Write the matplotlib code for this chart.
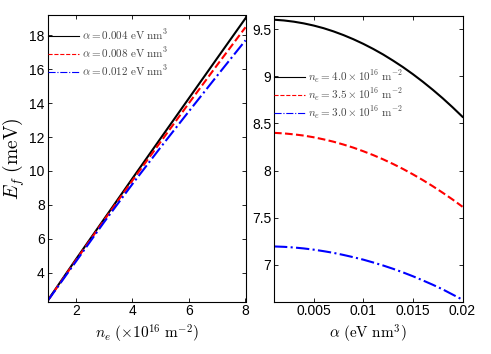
"""Fermi energy vs carrier density and Rashba coupling, two panels."""

import matplotlib
matplotlib.use('Agg')
import matplotlib.pyplot as plt


# left panel: E_f against n_e for three alpha values
density = [1, 2, 3, 4, 5, 6, 7, 8]
ef_alpha_004 = [2.36, 4.79, 7.17, 9.56, 11.93, 14.29, 16.65, 19.00]
ef_alpha_008 = [2.35, 4.73, 7.10, 9.44, 11.72, 14.00, 16.25, 18.47]
ef_alpha_012 = [2.34, 4.66, 6.99, 9.23, 11.40, 13.52, 15.62, 17.70]
left_labels = [
    r'$\alpha = 0.004\ \mathrm{eV\ nm}^3$',
    r'$\alpha = 0.008\ \mathrm{eV\ nm}^3$',
    r'$\alpha = 0.012\ \mathrm{eV\ nm}^3$',
]

# right panel: E_f against alpha for three densities
alpha = [0.001, 0.002, 0.003, 0.004, 0.005, 0.006, 0.007, 0.008, 0.009,
         0.010, 0.011, 0.012, 0.013, 0.014, 0.015, 0.016, 0.017, 0.018,
         0.019, 0.020]
ef_n_40 = [9.600, 9.592, 9.579, 9.561, 9.538, 9.510, 9.476, 9.437, 9.393,
           9.344, 9.290, 9.231, 9.166, 9.097, 9.022, 8.942, 8.857, 8.767,
           8.671, 8.570]
ef_n_35 = [8.400, 8.394, 8.384, 8.371, 8.353, 8.331, 8.306, 8.276, 8.243,
           8.205, 8.164, 8.119, 8.070, 8.017, 7.960, 7.899, 7.834, 7.765,
           7.693, 7.616]
ef_n_30 = [7.195, 7.191, 7.184, 7.174, 7.161, 7.145, 7.127, 7.105, 7.081,
           7.055, 7.025, 6.993, 6.958, 6.920, 6.879, 6.835, 6.789, 6.740,
           6.685, 6.630]
right_labels = [
    r'$n_e = 4.0 \times 10^{16}\ \mathrm{m}^{-2}$',
    r'$n_e = 3.5 \times 10^{16}\ \mathrm{m}^{-2}$',
    r'$n_e = 3.0 \times 10^{16}\ \mathrm{m}^{-2}$',
]

left_xticks = [2, 4, 6, 8]
left_yticks = [4, 6, 8, 10, 12, 14, 16, 18]
right_xticks = [0.005, 0.01, 0.015, 0.02]
right_xticklabels = ['0.005', '0.01', '0.015', '0.02']
right_yticks = [7, 7.5, 8, 8.5, 9, 9.5]
right_yticklabels = ['7', '7.5', '8', '8.5', '9', '9.5']

STYLES = (
    ('black', '-'),
    ('red', '--'),
    ('blue', '-.'),
)

plt.rcParams['font.family'] = ['Liberation Sans', 'DejaVu Sans']
plt.rcParams['mathtext.fontset'] = 'cm'


def _style_axis(axis):
    """Apply MATLAB-like box and tick styling."""
    axis.tick_params(direction='in', top=True, right=True, length=3,
                     width=0.6, labelsize=10)
    axis.tick_params(axis='x', pad=2)
    axis.tick_params(axis='y', pad=2)
    for spine in axis.spines.values():
        spine.set_linewidth(0.8)


def _add_legend(axis, top, spacing):
    """Frameless legend whose handles start at the left spine."""
    legend = axis.legend(
        loc='upper left',
        bbox_to_anchor=(0.0, top),
        frameon=False,
        borderaxespad=0.0,
        borderpad=0.0,
        handlelength=2.8,
        handletextpad=0.25,
        labelspacing=spacing,
        fontsize=8)
    for line in legend.get_lines():
        line.set_linewidth(0.8)
    for text in legend.get_texts():
        text.set_color('#444444')


fig = plt.figure(figsize=(4.91, 3.54), dpi=100)
left_ax = fig.add_axes([0.097, 0.148, 0.403, 0.810])
right_ax = fig.add_axes([0.558, 0.148, 0.384, 0.807])

left_series = (ef_alpha_004, ef_alpha_008, ef_alpha_012)
for values, label, (color, style) in zip(left_series, left_labels, STYLES):
    left_ax.plot(density, values, color=color, linestyle=style,
                 linewidth=1.5, label=label)

left_ax.set_xlim(1, 8)
left_ax.set_ylim(2.3, 19.2)
left_ax.set_xticks(left_xticks)
left_ax.set_yticks(left_yticks)
left_ax.set_xlabel(r'$n_e\ (\times 10^{16}\ \mathrm{m}^{-2})$', fontsize=11,
                   labelpad=3)
left_ax.set_ylabel(r'$E_f\ (\mathrm{meV})$', fontsize=14, labelpad=2)
_style_axis(left_ax)
_add_legend(left_ax, 0.957, 0.33)

right_series = (ef_n_40, ef_n_35, ef_n_30)
for values, label, (color, style) in zip(right_series, right_labels, STYLES):
    right_ax.plot(alpha, values, color=color, linestyle=style,
                  linewidth=1.5, label=label)

right_ax.set_xlim(0.001, 0.02)
right_ax.set_ylim(6.61, 9.64)
right_ax.set_xticks(right_xticks, right_xticklabels)
right_ax.set_yticks(right_yticks, right_yticklabels)
right_ax.set_xlabel(r'$\alpha\ (\mathrm{eV\ nm}^3)$', fontsize=11,
                    labelpad=3)
_style_axis(right_ax)
_add_legend(right_ax, 0.815, 0.12)

fig.savefig('out.png', dpi=100)
